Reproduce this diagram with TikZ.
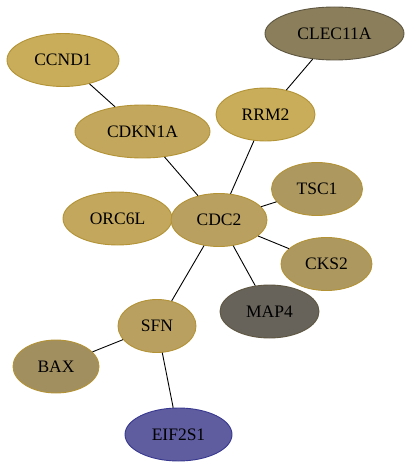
\documentclass[tikz,border=0pt]{standalone}
\usepackage{fontspec}
\setmainfont{Liberation Serif}
\usetikzlibrary{shapes.geometric}
\definecolor{goldA}{HTML}{C9AD5A}
\definecolor{goldB}{HTML}{C3A75C}
\definecolor{goldC}{HTML}{B9A060}
\definecolor{goldD}{HTML}{AD9860}
\definecolor{goldE}{HTML}{A28F60}
\definecolor{olive}{HTML}{8A7E5B}
\definecolor{greyish}{HTML}{67635B}
\definecolor{violet}{HTML}{5F5D9F}
\definecolor{rimgold}{HTML}{B39335}
\definecolor{rimdark}{HTML}{5E5640}
\definecolor{rimblue}{HTML}{383890}
\tikzset{
  gene/.style={shape=ellipse,draw=rimgold,line width=0.9pt,inner sep=0pt,
    minimum height=53pt,font=\fontsize{17.5}{20}\selectfont},
  link/.style={line width=0.9pt}
}
\begin{document}
\begin{tikzpicture}[x=1pt,y=-1pt]
\useasboundingbox (0,0) rectangle (411,468);
\node (CLEC11A) at (334.5,33.5) [gene,fill=olive,draw=rimdark,minimum width=139pt]{CLEC11A};
\node (CCND1) at (63,60) [gene,fill=goldA,minimum width=112pt]{CCND1};
\node (RRM2) at (265.5,114.5) [gene,fill=goldA,minimum width=99pt]{RRM2};
\node (CDKN1A) at (142.5,131.5) [gene,fill=goldB,minimum width=135pt]{CDKN1A};
\node (TSC1) at (317,189) [gene,fill=goldD,minimum width=91pt]{TSC1};
\node (ORC6L) at (117.5,218.5) [gene,fill=goldB,minimum width=109pt]{ORC6L};
\node (CDC2) at (219,220) [gene,fill=goldC,minimum width=96pt]{CDC2};
\node (CKS2) at (326.5,264) [gene,fill=goldD,minimum width=91pt]{CKS2};
\node (MAP4) at (269.5,311.5) [gene,fill=greyish,draw=rimdark,minimum width=99pt]{MAP4};
\node (SFN) at (157,326) [gene,fill=goldC,minimum width=78pt]{SFN};
\node (BAX) at (56,366.5) [gene,fill=goldE,minimum width=86pt]{BAX};
\node (EIF2S1) at (178.5,434.5) [gene,fill=violet,draw=rimblue,minimum width=107pt]{EIF2S1};
\draw [link] (CCND1) to (CDKN1A);
\draw [link] (CDKN1A) to (CDC2);
\draw [link] (CLEC11A) to (RRM2);
\draw [link] (RRM2) to (CDC2);
\draw [link] (CDC2) to (TSC1);
\draw [link] (CDC2) to (CKS2);
\draw [link] (CDC2) to (MAP4);
\draw [link] (CDC2) to (SFN);
\draw [link] (SFN) to (BAX);
\draw [link] (SFN) to (EIF2S1);
\end{tikzpicture}
\end{document}
